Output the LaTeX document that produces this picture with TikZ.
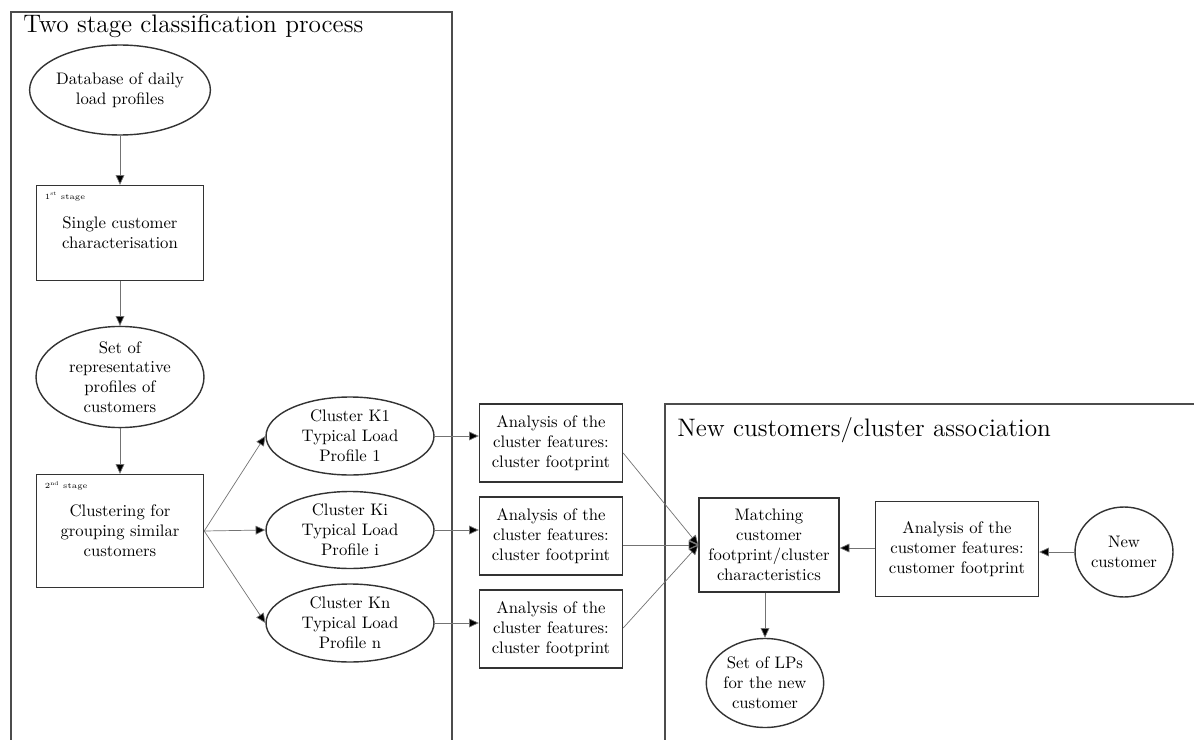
\documentclass[tikz,border=0pt]{standalone}
\usetikzlibrary{shapes.geometric,arrows.meta}
\begin{document}
\begin{tikzpicture}[x=0.02cm,y=-0.02cm,
  every node/.style={font=\fontsize{9.5}{11.3}\selectfont,align=center,inner sep=0pt},
  blob/.style={draw=black!80,line width=0.8pt,ellipse},
  stepbox/.style={draw=black!80,line width=0.8pt,rectangle},
  tag/.style={font=\fontsize{4.5}{5}\selectfont,anchor=north west},
  frame/.style={draw=black!70,line width=0.9pt},
  link/.style={draw=black!55,line width=0.4pt,-{Triangle[length=5.5pt,width=5pt,fill=black]}},
  heading/.style={font=\fontsize{14.4}{16}\selectfont,anchor=base west}]
\useasboundingbox (0,0) rectangle (1194,740);
% frames
\draw[frame] (11,760) -- (11,12) -- (452,12) -- (452,760);
\draw[frame] (665,760) -- (665,404) -- (1210,404);
\node[heading] (title1) at (23,33) {Two stage classification process};
\node[heading] (title2) at (677,436) {New customers/cluster association};
% left column
\node[blob,minimum width=3.38cm,minimum height=1.8cm] (db) at (120,90) {Database of daily\\load profiles};
\node[stepbox,minimum width=3.34cm,minimum height=1.9cm] (st1) at (120,233) {Single customer\\characterisation};
\node[tag] (tag1) at ([xshift=5pt,yshift=-4pt]st1.north west) {1\textsuperscript{st} stage};
\node[blob,minimum width=3.36cm,minimum height=1.78cm] (rep) at (120,377) {Set of\\representative\\profiles of\\customers};
\node[stepbox,minimum width=3.34cm,minimum height=2.26cm] (st2) at (120,531) {Clustering for\\grouping similar\\customers};
\node[tag] (tag2) at ([xshift=5pt,yshift=-4pt]st2.north west) {2\textsuperscript{nd} stage};
% clusters
\node[blob,minimum width=3.36cm,minimum height=1.56cm] (k1) at (350,436) {Cluster K1\\Typical Load\\Profile 1};
\node[blob,minimum width=3.36cm,minimum height=1.54cm] (ki) at (350,530) {Cluster Ki\\Typical Load\\Profile i};
\node[blob,minimum width=3.36cm,minimum height=1.56cm] (kn) at (350,623) {Cluster Kn\\Typical Load\\Profile n};
% cluster analysis
\node[stepbox,minimum width=2.86cm,minimum height=1.56cm] (an1) at (551,443) {Analysis of the\\cluster features:\\cluster footprint};
\node[stepbox,minimum width=2.86cm,minimum height=1.56cm] (ani) at (551,536) {Analysis of the\\cluster features:\\cluster footprint};
\node[stepbox,minimum width=2.86cm,minimum height=1.56cm] (ann) at (551,629) {Analysis of the\\cluster features:\\cluster footprint};
% association
\node[stepbox,minimum width=2.8cm,minimum height=1.88cm] (match) at (769,545) {Matching\\customer\\footprint/cluster\\characteristics};
\node[stepbox,minimum width=3.26cm,minimum height=1.9cm] (cust) at (957,549) {Analysis of the\\customer features:\\customer footprint};
\node[blob,minimum width=1.96cm,minimum height=1.8cm] (new) at (1124,552) {New\\customer};
\node[blob,minimum width=2.34cm,minimum height=1.78cm] (lps) at (765,683) {Set of LPs\\for the new\\customer};
% connectors
\draw[link] (db) -- (st1);
\draw[link] (st1) -- (rep);
\draw[link] (rep) -- (st2);
\draw[link] (st2.east) -- (k1.west);
\draw[link] (st2.east) -- (ki.west);
\draw[link] (st2.east) -- (kn.west);
\draw[link] (k1.east) -- (k1.east -| an1.west);
\draw[link] (ki.east) -- (ki.east -| ani.west);
\draw[link] (kn.east) -- (kn.east -| ann.west);
\draw[link] ([yshift=-0.2cm]an1.east) -- (match.west);
\draw[link] (match.west -| ani.east) -- (match.west);
\draw[link] ([yshift=0.02cm]ann.east) -- (match.west);
\draw[link] (new.west) -- (new.west -| cust.east);
\draw[link] ([yshift=0.02cm]cust.west) -- ([yshift=0.02cm]cust.west -| match.east);
\draw[link] (match.south -| lps.north) -- (lps.north);
\end{tikzpicture}
\end{document}
